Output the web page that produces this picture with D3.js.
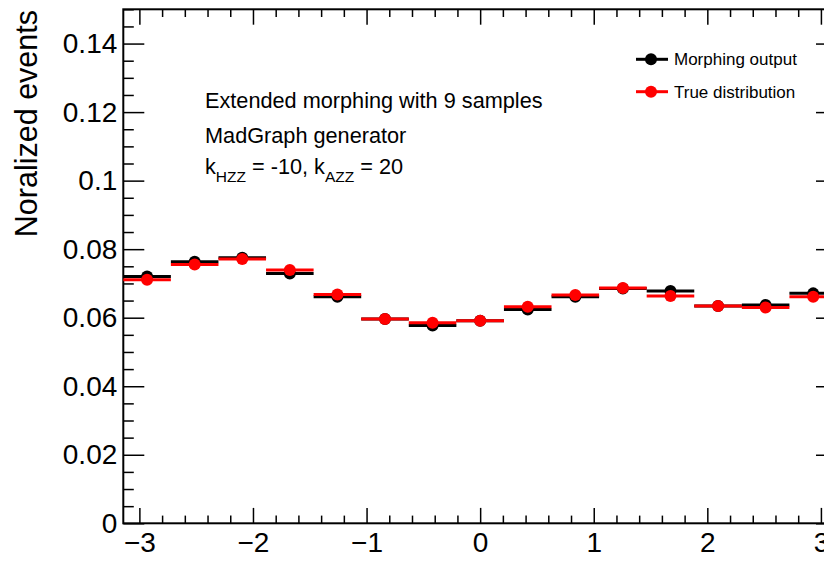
<!DOCTYPE html>
<html>
<head>
<meta charset="utf-8">
<script src="https://cdn.jsdelivr.net/npm/d3@7"></script>
<style>
  html, body { margin: 0; padding: 0; background: #fff; }
  svg { display: block; font-family: "Liberation Sans", Arial, Helvetica, sans-serif; }
</style>
</head>
<body>
<svg id="chart" width="824" height="586"></svg>
<script>
// ---- data ----
const xDomain = [-Math.PI, Math.PI];
const nBins = 15;
const morphingOutput = [0.0720, 0.0763, 0.0775, 0.0729, 0.0661, 0.0596, 0.0577, 0.0591, 0.0624, 0.0661, 0.0685, 0.0678, 0.0634, 0.0637, 0.0671];
const trueDistribution = [0.0711, 0.0755, 0.0771, 0.0739, 0.0668, 0.0596, 0.0585, 0.0591, 0.0632, 0.0666, 0.0687, 0.0663, 0.0634, 0.0630, 0.0661];
const xMajorTicks = [-3, -2, -1, 0, 1, 2, 3];
const yMajorTicks = [0, 0.02, 0.04, 0.06, 0.08, 0.1, 0.12, 0.14];
const yLabel = "Noralized events";
const legendLabels = ["Morphing output", "True distribution"];
const seriesColors = ["#000000", "#ff0000"];
const noteLines = ["Extended morphing with 9 samples", "MadGraph generator"];

// ---- layout ----
const L = 123.3, R = 837, T = 9.3, B = 523.3;
const svg = d3.select("#chart");
svg.append("rect").attr("width", 824).attr("height", 586).attr("fill", "#fff");

const x = d3.scaleLinear().domain(xDomain).range([L, R]);
const y = d3.scaleLinear().domain([0, 0.15]).range([B, T]);

const binW = (xDomain[1] - xDomain[0]) / nBins;
const bins = d3.range(nBins).map(i => ({lo: xDomain[0] + i * binW, hi: xDomain[0] + (i + 1) * binW}));

const xMinor = d3.range(-3.2, 3.21, 0.2).map(v => +v.toFixed(2)).filter(v => !xMajorTicks.includes(v) && v >= xDomain[0] && v <= xDomain[1]);
const yMinor = d3.range(0, 0.1501, 0.005).map(v => +v.toFixed(3)).filter(v => !yMajorTicks.some(t => Math.abs(t - v) < 1e-9));

const fmtY = d => d === 0 ? "0" : String(+d.toFixed(2));
const fmtX = d => d < 0 ? "\u2212" + Math.abs(d) : String(d);

function styleAxis(g, fontSize) {
  g.select(".domain").remove();
  g.selectAll(".tick line").attr("stroke", "#000").attr("stroke-width", 1.5);
  g.selectAll(".tick text").attr("fill", "#000").attr("font-size", fontSize).attr("font-family", '"Liberation Sans", Arial, sans-serif');
}

// bottom axis
svg.append("g").attr("transform", `translate(0,${B})`)
  .call(d3.axisBottom(x).tickValues(xMajorTicks).tickSizeInner(-15.4).tickSizeOuter(0).tickPadding(9).tickFormat(fmtX))
  .call(g => styleAxis(g, 28));
svg.append("g").attr("transform", `translate(0,${B})`)
  .call(d3.axisBottom(x).tickValues(xMinor).tickSizeInner(-7.7).tickSizeOuter(0).tickFormat(""))
  .call(g => styleAxis(g, 0));
// top axis
svg.append("g").attr("transform", `translate(0,${T})`)
  .call(d3.axisTop(x).tickValues(xMajorTicks).tickSizeInner(-15.4).tickSizeOuter(0).tickFormat(""))
  .call(g => styleAxis(g, 0));
svg.append("g").attr("transform", `translate(0,${T})`)
  .call(d3.axisTop(x).tickValues(xMinor).tickSizeInner(-7.7).tickSizeOuter(0).tickFormat(""))
  .call(g => styleAxis(g, 0));
// left axis
svg.append("g").attr("transform", `translate(${L},0)`)
  .call(d3.axisLeft(y).tickValues(yMajorTicks).tickSizeInner(-21).tickSizeOuter(0).tickPadding(6).tickFormat(fmtY))
  .call(g => styleAxis(g, 28));
svg.append("g").attr("transform", `translate(${L},0)`)
  .call(d3.axisLeft(y).tickValues(yMinor).tickSizeInner(-10.5).tickSizeOuter(0).tickFormat(""))
  .call(g => styleAxis(g, 0));
// right axis
svg.append("g").attr("transform", `translate(${R},0)`)
  .call(d3.axisRight(y).tickValues(yMajorTicks).tickSizeInner(-21).tickSizeOuter(0).tickFormat(""))
  .call(g => styleAxis(g, 0));
svg.append("g").attr("transform", `translate(${R},0)`)
  .call(d3.axisRight(y).tickValues(yMinor).tickSizeInner(-10.5).tickSizeOuter(0).tickFormat(""))
  .call(g => styleAxis(g, 0));

// frame
svg.append("rect").attr("x", L).attr("y", T).attr("width", R - L).attr("height", B - T)
  .attr("fill", "none").attr("stroke", "#000").attr("stroke-width", 2);

// series
[morphingOutput, trueDistribution].forEach((vals, si) => {
  const g = svg.append("g");
  g.selectAll("line").data(vals).join("line")
    .attr("x1", (d, i) => x(bins[i].lo)).attr("x2", (d, i) => x(bins[i].hi))
    .attr("y1", d => y(d)).attr("y2", d => y(d))
    .attr("stroke", seriesColors[si]).attr("stroke-width", 3);
  g.selectAll("circle").data(vals).join("circle")
    .attr("cx", (d, i) => x((bins[i].lo + bins[i].hi) / 2)).attr("cy", d => y(d))
    .attr("r", 6).attr("fill", seriesColors[si]);
});

// y title
svg.append("text").attr("transform", "translate(37,10) rotate(-90)")
  .attr("text-anchor", "end").attr("font-size", 30.5).attr("fill", "#000").text(yLabel);

// annotation
const note = svg.append("text").attr("font-size", 21.7).attr("fill", "#000");
note.append("tspan").attr("x", 205).attr("y", 108).text(noteLines[0]);
note.append("tspan").attr("x", 205).attr("y", 143).text(noteLines[1]);
const k = svg.append("text").attr("x", 205).attr("y", 174).attr("font-size", 21.7).attr("fill", "#000");
k.append("tspan").text("k");
k.append("tspan").attr("font-size", 15.5).attr("dy", 8).text("HZZ");
k.append("tspan").attr("dy", -8).text(" = -10, k");
k.append("tspan").attr("font-size", 15.5).attr("dy", 8).text("AZZ");
k.append("tspan").attr("dy", -8).text(" = 20");

// legend
const legY = [59.3, 91.7];
legendLabels.forEach((lab, i) => {
  svg.append("line").attr("x1", 636).attr("x2", 668).attr("y1", legY[i]).attr("y2", legY[i])
    .attr("stroke", seriesColors[i]).attr("stroke-width", 3);
  svg.append("circle").attr("cx", 651).attr("cy", legY[i]).attr("r", 6).attr("fill", seriesColors[i]);
  svg.append("text").attr("x", 674).attr("y", legY[i]).attr("dy", "0.35em")
    .attr("font-size", 17).attr("fill", "#000").text(lab);
});
</script>
</body>
</html>
